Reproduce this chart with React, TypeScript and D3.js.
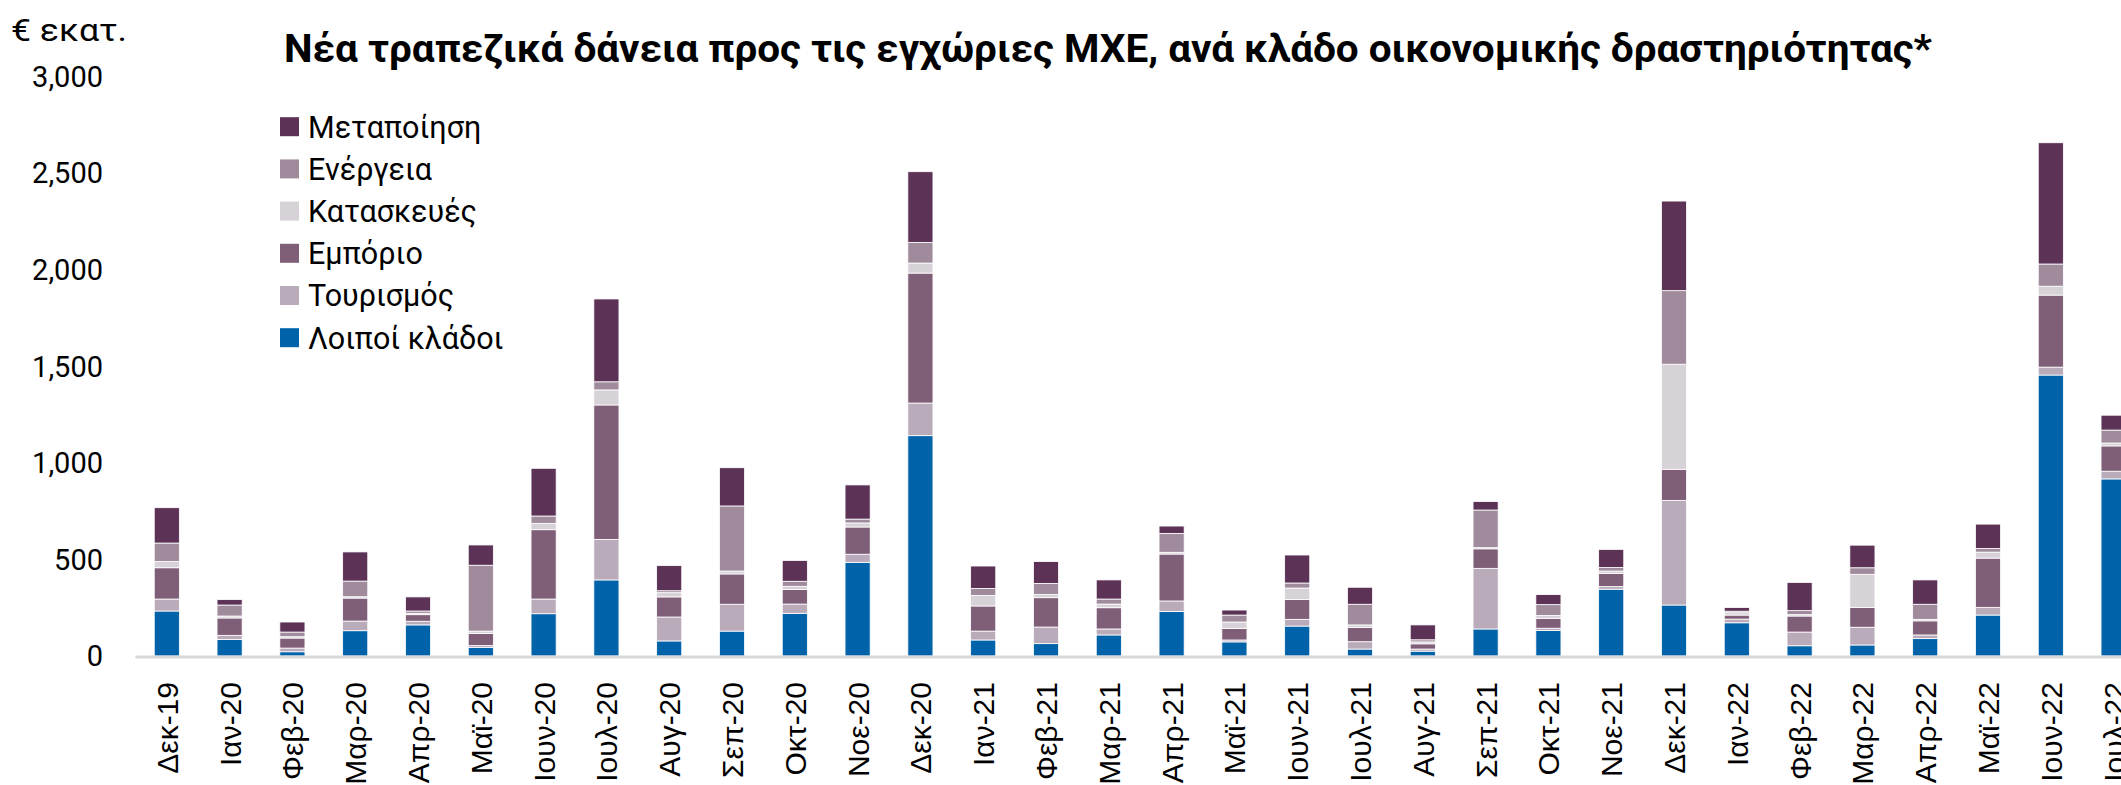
import React from "react";
import * as d3 from "d3";

const months = [
  "Δεκ-19", "Ιαν-20", "Φεβ-20", "Μαρ-20", "Απρ-20", "Μαϊ-20", "Ιουν-20", "Ιουλ-20",
  "Αυγ-20", "Σεπ-20", "Οκτ-20", "Νοε-20", "Δεκ-20", "Ιαν-21", "Φεβ-21", "Μαρ-21",
  "Απρ-21", "Μαϊ-21", "Ιουν-21", "Ιουλ-21", "Αυγ-21", "Σεπ-21", "Οκτ-21", "Νοε-21",
  "Δεκ-21", "Ιαν-22", "Φεβ-22", "Μαρ-22", "Απρ-22", "Μαϊ-22", "Ιουν-22", "Ιουλ-22",
];

// series values, € εκατ.
const loipoi = [233, 85, 22, 131, 161, 45, 219, 394, 78, 129, 221, 485, 1141, 83, 64, 109, 231, 73, 155, 36, 25, 140, 132, 346, 264, 172, 53, 57, 90, 212, 1455, 917];
const tourismos = [62, 22, 19, 50, 19, 9, 76, 210, 124, 139, 48, 42, 169, 46, 86, 31, 54, 10, 35, 38, 11, 314, 12, 14, 542, 19, 71, 92, 19, 40, 41, 40];
const emporio = [162, 90, 52, 119, 34, 63, 359, 696, 104, 157, 75, 141, 673, 130, 152, 110, 243, 59, 102, 73, 27, 101, 51, 67, 161, 21, 83, 102, 73, 255, 373, 131];
const kataskeves = [32, 10, 7, 7, 7, 12, 33, 78, 22, 15, 17, 21, 52, 55, 16, 19, 9, 34, 60, 14, 10, 6, 15, 13, 544, 12, 7, 172, 8, 31, 46, 15];
const energeia = [96, 57, 24, 81, 12, 341, 38, 42, 10, 337, 26, 20, 107, 36, 58, 26, 98, 36, 26, 107, 11, 195, 56, 18, 381, 8, 21, 34, 78, 19, 115, 67];
const metapoiisi = [183, 28, 52, 151, 73, 105, 247, 429, 130, 198, 108, 177, 366, 116, 113, 99, 38, 26, 145, 88, 77, 44, 52, 94, 464, 19, 146, 117, 126, 126, 628, 77];

const yTicks = [0, 500, 1000, 1500, 2000, 2500, 3000];

// bottom to top
const series = [
  { key: "Λοιποί κλάδοι", values: loipoi, color: "#0063aa" },
  { key: "Τουρισμός", values: tourismos, color: "#baabba" },
  { key: "Εμπόριο", values: emporio, color: "#7f5e78" },
  { key: "Κατασκευές", values: kataskeves, color: "#d7d1d8" },
  { key: "Ενέργεια", values: energeia, color: "#a08b9c" },
  { key: "Μεταποίηση", values: metapoiisi, color: "#5c3357" },
];

const W = 2121;
const H = 785;

export default function App() {
  const rows = months.map((m, i) => {
    const r: Record<string, any> = { month: m };
    series.forEach((s) => (r[s.key] = s.values[i]));
    return r;
  });
  const stacked = d3.stack().keys(series.map((s) => s.key))(rows as any);

  const x = d3
    .scaleBand()
    .domain(months)
    .range([135.4, 135.4 + 32 * 62.8])
    .paddingInner(0.6)
    .paddingOuter(0.3);
  const y = d3.scaleLinear().domain([0, 3000]).range([656, 76.7]);
  const fmt = d3.format(",");

  const legend = [...series].reverse();

  return (
    <svg width={W} height={H} style={{ position: "absolute", left: 0, top: 0, background: "#fff" }}>
      <text x={11} y={41} fontFamily="Roboto, sans-serif" fontSize={32} fill="#000" textLength={116} lengthAdjust="spacingAndGlyphs">
        € εκατ.
      </text>
      <text
        x={284}
        y={62}
        fontFamily="Roboto, sans-serif"
        fontWeight="bold"
        fontSize={38}
        fill="#000"
        textLength={1648}
        lengthAdjust="spacingAndGlyphs"
      >
        Νέα τραπεζικά δάνεια προς τις εγχώριες ΜΧΕ, ανά κλάδο οικονομικής δραστηριότητας*
      </text>

      {yTicks.map((t) => (
        <text
          key={t}
          x={103}
          y={y(t)}
          dy="0.35em"
          textAnchor="end"
          fontFamily="Roboto, sans-serif"
          fontSize={29}
          fill="#000"
        >
          {fmt(t)}
        </text>
      ))}

      {stacked.map((layer, si) => (
        <g key={layer.key} fill={series[si].color}>
          {layer.map((d, i) => (
            <rect
              key={i}
              x={x(months[i])}
              y={y(d[1])}
              width={x.bandwidth()}
              height={Math.max(0, y(d[0]) - y(d[1]))}
              stroke="#fff"
              strokeWidth={0.8}
            />
          ))}
        </g>
      ))}

      <line x1={135.4} x2={W} y1={657} y2={657} stroke="#d9d9d9" strokeWidth={3} />

      {months.map((m) => (
        <text
          key={m}
          transform={`translate(${x(m)! + x.bandwidth() / 2 + 11},682) rotate(-90)`}
          textAnchor="end"
          fontFamily="'Liberation Sans', Arial, sans-serif"
          fontSize={30}
          fill="#000"
        >
          {m}
        </text>
      ))}

      {legend.map((s, i) => (
        <g key={s.key} transform={`translate(280,${126.7 + i * 42.2})`}>
          <rect x={0} y={-9.5} width={19} height={19} fill={s.color} />
          <text x={28} y={0} dy="0.36em" fontFamily="Roboto, sans-serif" fontSize={30.5} fill="#000">
            {s.key}
          </text>
        </g>
      ))}
    </svg>
  );
}
